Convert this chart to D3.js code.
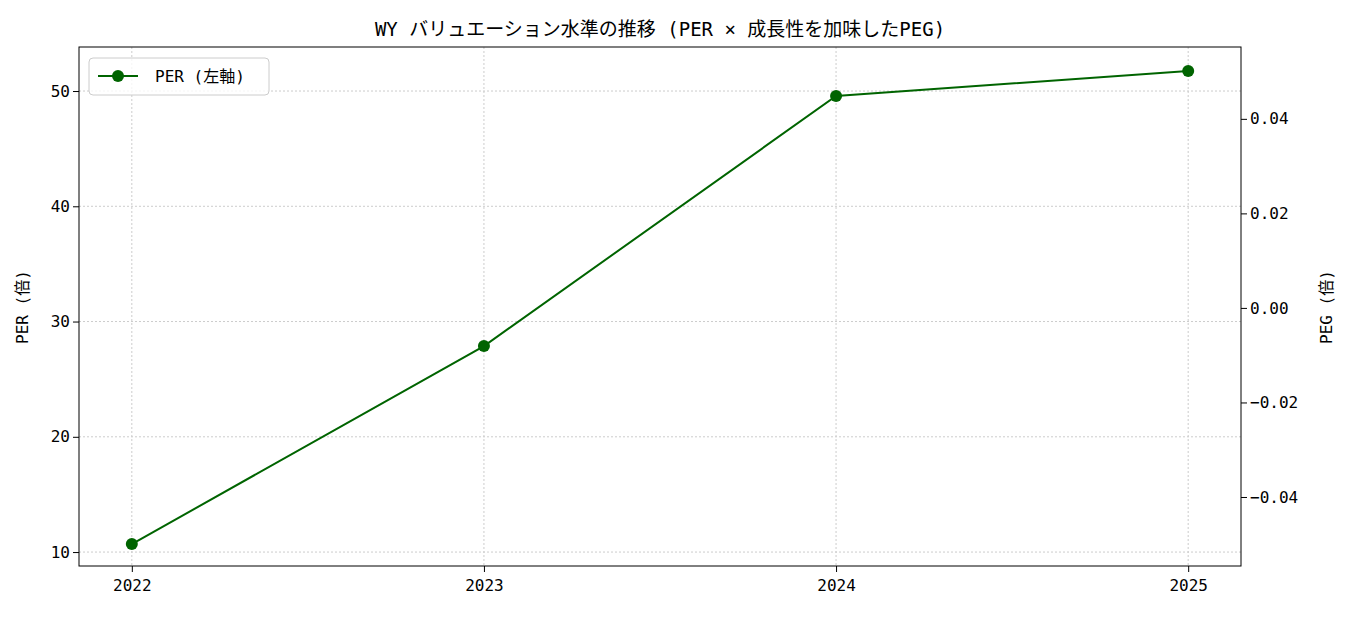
<!DOCTYPE html>
<html><head><meta charset="utf-8">
<script src="https://cdn.jsdelivr.net/npm/d3@7"></script>
<style>body{margin:0;background:#fff}text{font-family:"DejaVu Sans Mono","Noto Sans CJK JP",monospace;fill:#000}</style>
</head><body><svg id="c" width="1351" height="617"></svg>
<script>
const years=[2022,2023,2024,2025];
const per=[10.69,27.87,49.57,51.74];
const perTicks=[10,20,30,40,50];
const pegTicks=[-0.04,-0.02,0,0.02,0.04];
const svg=d3.select("#c");
const L=79,R=1241,T=47,B=566;
const x=d3.scaleLinear().domain([2021.85,2025.15]).range([L,R]);
const y=d3.scaleLinear().domain([8.79,53.82]).range([B,T]);
const y2=d3.scaleLinear().domain([-0.0546,0.0552]).range([B,T]);
const g=svg.append("g");
years.forEach(v=>g.append("line").attr("x1",x(v)).attr("x2",x(v)).attr("y1",T).attr("y2",B).attr("stroke","#ccc").attr("stroke-dasharray","2,2"));
perTicks.forEach(v=>g.append("line").attr("x1",L).attr("x2",R).attr("y1",y(v)).attr("y2",y(v)).attr("stroke","#ccc").attr("stroke-dasharray","2,2"));
const fmt2=d=>(d<0?"−":"")+Math.abs(d).toFixed(2);
const ax=svg.append("g").attr("transform",`translate(0,${B})`).call(d3.axisBottom(x).tickValues(years).tickFormat(d3.format("d")).tickSizeOuter(0));
const ay=svg.append("g").attr("transform",`translate(${L},0)`).call(d3.axisLeft(y).tickValues(perTicks).tickSizeOuter(0));
const ay2=svg.append("g").attr("transform",`translate(${R},0)`).call(d3.axisRight(y2).tickValues(pegTicks).tickFormat(fmt2).tickSizeOuter(0));
[ax,ay,ay2].forEach(a=>{a.select(".domain").remove();a.selectAll("text").style("font-size","16px").attr("fill","#000");a.selectAll("line").attr("stroke","#000");});
ax.selectAll("text").attr("dy","1em");
svg.append("rect").attr("x",L).attr("y",T).attr("width",R-L).attr("height",B-T).attr("fill","none").attr("stroke","#000");
const line=d3.line().x((d,i)=>x(years[i])).y(d=>y(d));
svg.append("path").datum(per).attr("d",line).attr("fill","none").attr("stroke","#006400").attr("stroke-width",2);
svg.selectAll(".pt").data(per).enter().append("circle").attr("cx",(d,i)=>x(years[i])).attr("cy",d=>y(d)).attr("r",6).attr("fill","#006400");
svg.append("text").attr("x",(L+R)/2).attr("y",36).attr("text-anchor","middle").style("font-size","19px").text("WY バリュエーション水準の推移 (PER × 成長性を加味したPEG)");
svg.append("text").attr("transform","translate(28,307) rotate(-90)").attr("text-anchor","middle").style("font-size","16px").text("PER (倍)");
svg.append("text").attr("transform","translate(1332,307) rotate(-90)").attr("text-anchor","middle").style("font-size","16px").text("PEG (倍)");
const lg=svg.append("g");
lg.append("rect").attr("x",89).attr("y",58).attr("width",180).attr("height",37).attr("rx",4).attr("fill","#fff").attr("fill-opacity",0.8).attr("stroke","#ccc");
lg.append("line").attr("x1",98).attr("x2",138).attr("y1",76).attr("y2",76).attr("stroke","#006400").attr("stroke-width",2);
lg.append("circle").attr("cx",118).attr("cy",76).attr("r",6).attr("fill","#006400");
lg.append("text").attr("x",155).attr("y",82).style("font-size","16px").text("PER (左軸)");
</script></body></html>
